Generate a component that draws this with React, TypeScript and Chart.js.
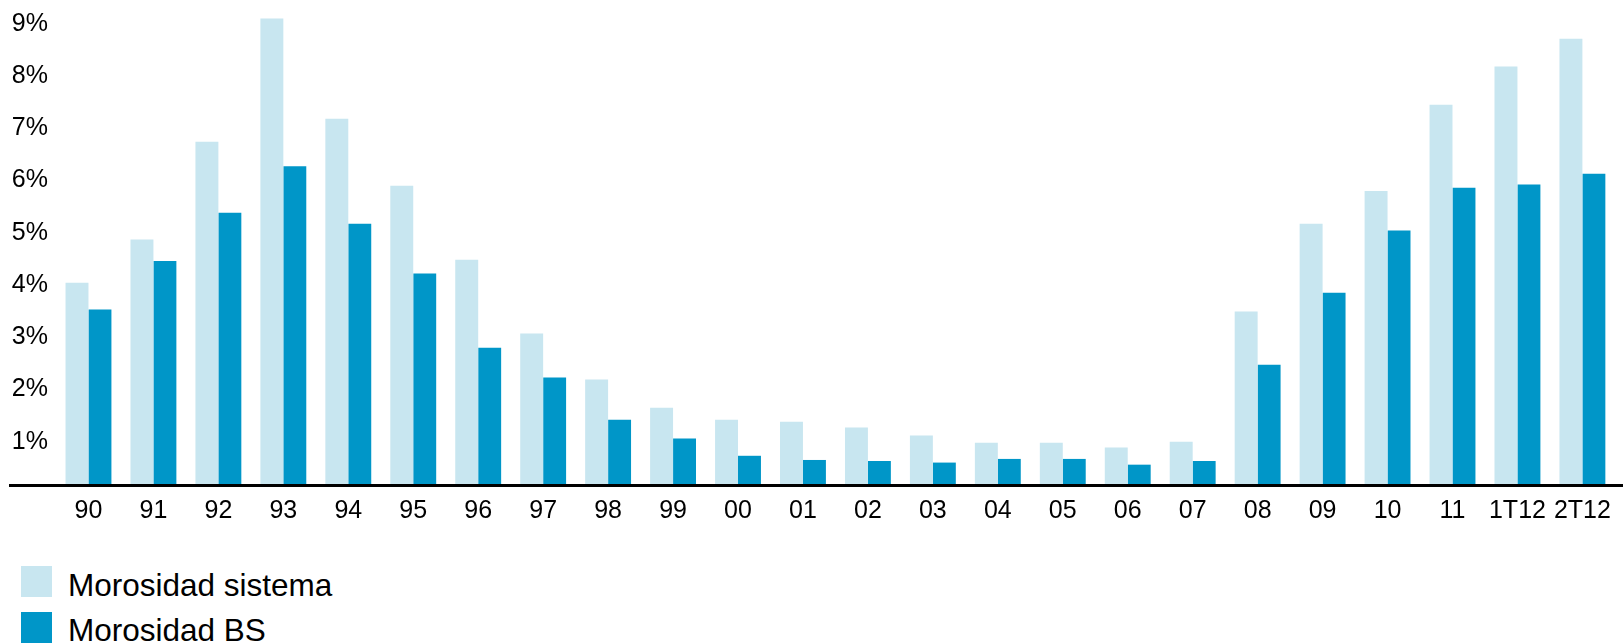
import React, { useEffect, useRef } from "react";
import { Chart, registerables } from "chart.js";

Chart.register(...registerables);

const categories = ["90", "91", "92", "93", "94", "95", "96", "97", "98", "99", "00", "01", "02", "03", "04", "05", "06", "07", "08", "09", "10", "11", "1T12", "2T12"];
const morosidadSistema = [4.04, 4.87, 6.74, 9.1, 7.18, 5.9, 4.48, 3.07, 2.19, 1.65, 1.42, 1.38, 1.27, 1.12, 0.98, 0.98, 0.89, 1.0, 3.49, 5.17, 5.8, 7.45, 8.18, 8.71];
const morosidadBS = [3.53, 4.46, 5.38, 6.27, 5.17, 4.22, 2.8, 2.23, 1.42, 1.06, 0.73, 0.65, 0.63, 0.6, 0.67, 0.67, 0.56, 0.63, 2.47, 3.85, 5.04, 5.86, 5.92, 6.13];
const yTicks = [1, 2, 3, 4, 5, 6, 7, 8, 9];
const seriesNames = ["Morosidad sistema", "Morosidad BS"];
const seriesColors = ["#C8E6F0", "#0096C8"];

const FONT_FAMILY = "'Liberation Sans', Arial, Helvetica, sans-serif";

const baselinePlugin = {
  id: "baselineAxis",
  afterDatasetsDraw(chart: any) {
    const { ctx, chartArea } = chart;
    ctx.save();
    ctx.fillStyle = "#000";
    ctx.fillRect(9, chartArea.bottom, chart.width - 9, 3);
    ctx.restore();
  },
};

export default function App() {
  const canvasRef = useRef<HTMLCanvasElement | null>(null);

  useEffect(() => {
    if (!canvasRef.current) return;
    const tickFont = { family: FONT_FAMILY, size: 25 };
    const chart = new Chart(canvasRef.current, {
      type: "bar",
      data: {
        labels: categories,
        datasets: [
          { label: seriesNames[0], data: morosidadSistema, backgroundColor: seriesColors[0], borderWidth: 0 },
          { label: seriesNames[1], data: morosidadBS, backgroundColor: seriesColors[1], borderWidth: 0 },
        ],
      },
      options: {
        responsive: false,
        animation: false,
        layout: { padding: { top: 16, right: 5, bottom: 0, left: 0 } },
        datasets: { bar: { categoryPercentage: 0.7066, barPercentage: 1 } },
        plugins: { legend: { display: false }, tooltip: { enabled: false } },
        scales: {
          x: {
            grid: { display: false, drawTicks: false },
            border: { display: false },
            ticks: { font: tickFont, color: "#000", padding: 12, maxRotation: 0, autoSkip: false },
          },
          y: {
            min: 0.19,
            max: 9.147,
            grid: { display: false, drawTicks: false },
            border: { display: false },
            afterBuildTicks: (axis: any) => {
              axis.ticks = yTicks.map((v) => ({ value: v }));
            },
            afterFit: (axis: any) => {
              axis.width = 56;
              axis.paddingTop = 0;
              axis.paddingBottom = 0;
            },
            ticks: {
              font: tickFont,
              color: "#000",
              padding: 8,
              callback: (v: any) => `${v}%`,
            },
          },
        },
      },
      plugins: [baselinePlugin],
    });
    return () => chart.destroy();
  }, []);

  return (
    <div style={{ position: "absolute", left: 0, top: 0, width: 1623, height: 643, overflow: "hidden", background: "#fff" }}>
      <canvas ref={canvasRef} width={1623} height={538} style={{ display: "block" }} />
      {seriesNames.map((name, i) => (
        <React.Fragment key={name}>
          <div style={{ position: "absolute", left: 21, top: 566 + i * 46, width: 31, height: 31, background: seriesColors[i] }} />
          <div
            style={{
              position: "absolute",
              left: 68,
              top: 570 + i * 45,
              fontFamily: FONT_FAMILY,
              fontSize: 31.5,
              lineHeight: "31.5px",
              color: "#000",
              whiteSpace: "nowrap",
            }}
          >
            {name}
          </div>
        </React.Fragment>
      ))}
    </div>
  );
}
